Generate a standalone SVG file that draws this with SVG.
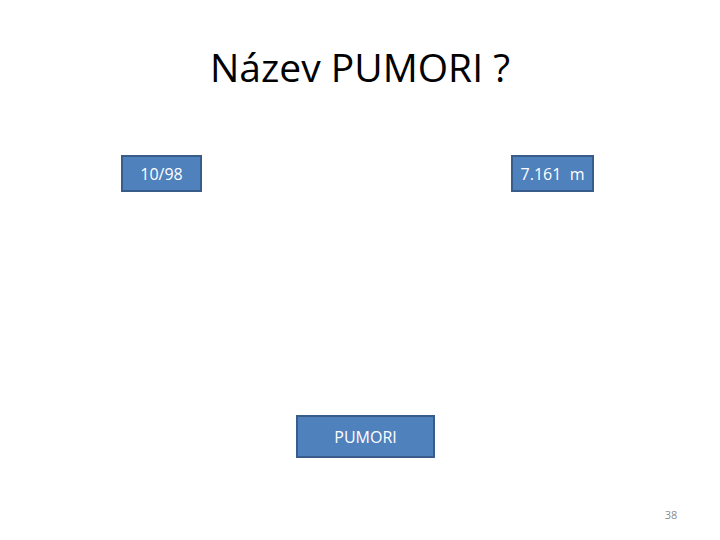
<svg xmlns="http://www.w3.org/2000/svg" width="720" height="540" viewBox="0 0 720 540">
<style>
.box{fill:#4F81BD;stroke:#385D8A;stroke-width:2}
.lbl{font-family:"Open Sans","Liberation Sans",sans-serif;font-size:16px;fill:#fff;text-anchor:middle}
</style>
<rect width="720" height="540" fill="#fff"/>
<text x="360" y="82" font-family="Open Sans, Liberation Sans, sans-serif" font-size="39" text-anchor="middle" fill="#000">Název PUMORI ?</text>
<g id="connectors"></g>
<g id="node1"><rect class="box" x="122" y="156" width="79" height="35"/><text class="lbl" x="161.5" y="180">10/98</text></g>
<g id="node2"><rect class="box" x="512" y="156" width="81" height="35"/><text class="lbl" x="552.5" y="180" xml:space="preserve">7.161  m</text></g>
<g id="node3"><rect class="box" x="297" y="416" width="137" height="41"/><text class="lbl" x="365.5" y="443">PUMORI</text></g>
<text x="671" y="519" font-family="Open Sans, Liberation Sans, sans-serif" font-size="11" text-anchor="middle" fill="#8C8C8C">38</text>
</svg>
